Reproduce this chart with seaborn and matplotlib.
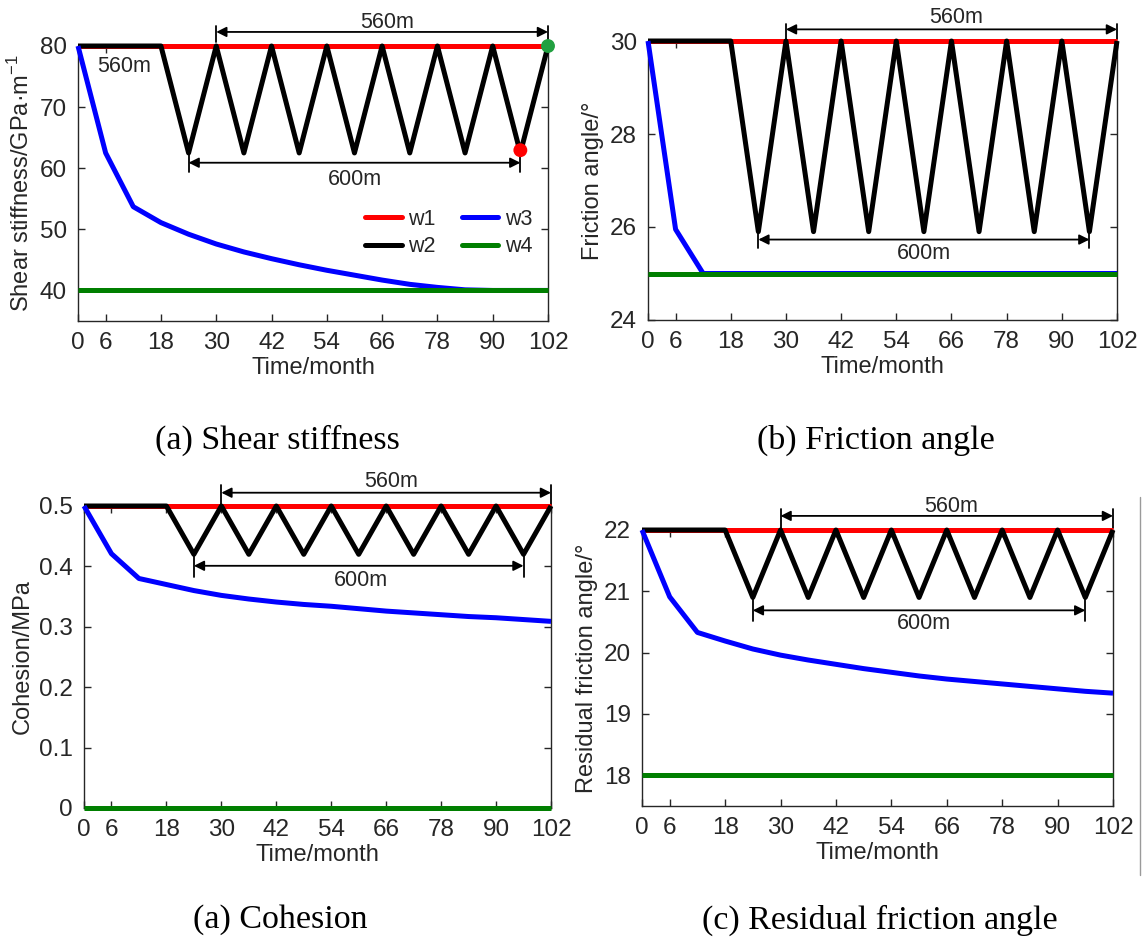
import numpy as np
import pandas as pd
import seaborn as sns
import matplotlib
matplotlib.use("Agg")
import matplotlib.pyplot as plt
from matplotlib.lines import Line2D

# ---------------- data ----------------
months = [0, 6, 12, 18, 24, 30, 36, 42, 48, 54, 60, 66, 72, 78, 84, 90, 96, 102]
xticks = [0, 6, 18, 30, 42, 54, 66, 78, 90, 102]
series_names = ["w1", "w2", "w3", "w4"]
series_colors = ["#ff0000", "#000000", "#0000ff", "#007f00"]

# (a) Shear stiffness
stiff_w1 = [80] * 18
stiff_w2 = [80, 80, 80, 80, 62.5, 80, 62.5, 80, 62.5, 80, 62.5, 80, 62.5, 80, 62.5, 80, 62.5, 80]
stiff_w3 = [80, 62.5, 53.7, 51.1, 49.2, 47.6, 46.3, 45.2, 44.2, 43.3, 42.5, 41.7, 41.0, 40.5, 40.1, 40, 40, 40]
stiff_w4 = [40] * 18

# (b) Friction angle
fric_w1 = [30] * 18
fric_w2 = [30, 30, 30, 30, 25.9, 30, 25.9, 30, 25.9, 30, 25.9, 30, 25.9, 30, 25.9, 30, 25.9, 30]
fric_w3 = [30, 25.95, 25.0, 25, 25, 25, 25, 25, 25, 25, 25, 25, 25, 25, 25, 25, 25, 25]
fric_w4 = [25] * 18

# (a) Cohesion
coh_w1 = [0.5] * 18
coh_w2 = [0.5, 0.5, 0.5, 0.5, 0.42, 0.5, 0.42, 0.5, 0.42, 0.5, 0.42, 0.5, 0.42, 0.5, 0.42, 0.5, 0.42, 0.5]
coh_w3 = [0.5, 0.421, 0.380, 0.370, 0.360, 0.352, 0.346, 0.341, 0.337, 0.334, 0.330, 0.326, 0.323, 0.320, 0.317, 0.315, 0.312, 0.309]
coh_w4 = [0.0] * 18

# (c) Residual friction angle
res_w1 = [22] * 18
res_w2 = [22, 22, 22, 22, 20.9, 22, 20.9, 22, 20.9, 22, 20.9, 22, 20.9, 22, 20.9, 22, 20.9, 22]
res_w3 = [22, 20.91, 20.33, 20.19, 20.06, 19.96, 19.88, 19.81, 19.74, 19.68, 19.62, 19.57, 19.53, 19.49, 19.45, 19.41, 19.37, 19.34]
res_w4 = [18] * 18

ylabels = ["Shear stiffness/GPa·m$^{-1}$", "Friction angle/°", "Cohesion/MPa", "Residual friction angle/°"]
captions = ["(a) Shear stiffness", "(b) Friction angle", "(a) Cohesion", "(c) Residual friction angle"]
ylims = [(35, 80), (24, 30), (0, 0.5), (17.5, 22)]
yticks = [[40, 50, 60, 70, 80], [24, 26, 28, 30], [0, 0.1, 0.2, 0.3, 0.4, 0.5], [18, 19, 20, 21, 22]]
ytick_labels = [["40", "50", "60", "70", "80"], ["24", "26", "28", "30"],
                ["0", "0.1", "0.2", "0.3", "0.4", "0.5"], ["18", "19", "20", "21", "22"]]

# annotation layout
ann = [
    dict(top_y=82.3, top_ty=83.9, bot_y=60.9, bot_ty=58.2, tick=1.6, top_tx=67, bot_tx=60),
    dict(top_y=30.25, top_ty=30.5, bot_y=25.73, bot_ty=25.43, tick=0.2, top_tx=67, bot_tx=60),
    dict(top_y=0.522, top_ty=0.541, bot_y=0.401, bot_ty=0.377, tick=0.02, top_tx=67, bot_tx=60.4),
    dict(top_y=22.23, top_ty=22.39, bot_y=20.69, bot_ty=20.47, tick=0.2, top_tx=67, bot_tx=61),
]
top_span = (30, 102)
bot_span = (24, 96)

panels = [
    (stiff_w1, stiff_w2, stiff_w3, stiff_w4),
    (fric_w1, fric_w2, fric_w3, fric_w4),
    (coh_w1, coh_w2, coh_w3, coh_w4),
    (res_w1, res_w2, res_w3, res_w4),
]

# ---------------- style ----------------
sns.set_style("ticks")
plt.rcParams["font.family"] = ["Liberation Sans", "DejaVu Sans"]
plt.rcParams["mathtext.fontset"] = "custom"
plt.rcParams["mathtext.rm"] = "Liberation Sans"
plt.rcParams["axes.edgecolor"] = "#262626"
plt.rcParams["xtick.color"] = "#262626"
plt.rcParams["ytick.color"] = "#262626"

fig = plt.figure(figsize=(11.46, 9.5), dpi=100)
W, H = 1146, 950
boxes_px = [(78, 46, 548, 321), (648, 41, 1117, 320), (84, 506, 551, 808), (642, 530, 1113, 806)]
caption_pos = [(277, 440), (876, 440), (280, 920), (880, 920)]

for i, (vals, box) in enumerate(zip(panels, boxes_px)):
    l, t, r, b = box
    ax = fig.add_axes([l / W, 1 - b / H, (r - l) / W, (b - t) / H])
    df = pd.DataFrame({
        "Time": months * 4,
        "value": list(vals[0]) + list(vals[1]) + list(vals[2]) + list(vals[3]),
        "series": sum([[n] * len(months) for n in series_names], []),
    })
    sns.lineplot(data=df, x="Time", y="value", hue="series", hue_order=series_names,
                 palette=series_colors, estimator=None, sort=False, linewidth=3.6,
                 ax=ax, legend=(i == 0))
    for k, ln in enumerate(ax.lines):
        ln.set_clip_on(False)
        ln.set_solid_capstyle("butt")
        ln.set_zorder(3 + 0.01 * k)
    ax.set_xlim(0, 102)
    ax.set_ylim(*ylims[i])
    ax.set_xticks(xticks)
    ax.set_yticks(yticks[i])
    ax.set_yticklabels(ytick_labels[i])
    ax.tick_params(direction="in", length=5, width=1, labelsize=17.5, pad=8,
                   right=True, top=True, labelcolor="#262626")
    for sp in ax.spines.values():
        sp.set_visible(True)
        sp.set_linewidth(1.0)
    ax.set_xlabel("Time/month", fontsize=17, color="#262626", labelpad=2)
    ax.set_ylabel(ylabels[i], fontsize=17, color="#262626", labelpad=4)

    a = ann[i]
    ax.annotate("", xy=(top_span[1], a["top_y"]), xytext=(top_span[0], a["top_y"]),
                arrowprops=dict(arrowstyle="<|-|>", color="black", lw=1.3,
                                mutation_scale=15, shrinkA=0, shrinkB=0),
                annotation_clip=False)
    for xx in top_span:
        ax.plot([xx, xx], [a["top_y"] - a["tick"], a["top_y"] + a["tick"] * 0.6],
                color="black", lw=1.3, clip_on=False)
    ax.text(a["top_tx"], a["top_ty"], "560m", ha="center", va="center", fontsize=15.5,
            color="#262626", clip_on=False)
    ax.annotate("", xy=(bot_span[1], a["bot_y"]), xytext=(bot_span[0], a["bot_y"]),
                arrowprops=dict(arrowstyle="<|-|>", color="black", lw=1.3,
                                mutation_scale=15, shrinkA=0, shrinkB=0))
    for xx in bot_span:
        ax.plot([xx, xx], [a["bot_y"] - a["tick"] * 0.9, a["bot_y"] + a["tick"] * 0.9],
                color="black", lw=1.3)
    ax.text(a["bot_tx"], a["bot_ty"], "600m", ha="center", va="center", fontsize=15.5,
            color="#262626")

    if i == 0:
        ax.text(10, 76.7, "560m", ha="center", va="center", fontsize=15.5, color="#262626")
        ax.scatter([96], [62.95], s=100, color="#ff0000", zorder=5, edgecolor="none")
        ax.scatter([102], [80], s=100, color="#22a040", zorder=5, edgecolor="none", clip_on=False)
        handles = [Line2D([], [], color=c, lw=3.6) for c in series_colors]
        ax.legend(handles, series_names, ncol=2, frameon=False, fontsize=15.5,
                  loc="lower right", bbox_to_anchor=(0.985, 0.2),
                  handlelength=1.7, handletextpad=0.3, columnspacing=1.2,
                  labelspacing=0.3, borderaxespad=0)

    cx, cy = caption_pos[i]
    fig.text(cx / W, 1 - cy / H, captions[i], ha="center", va="center", fontsize=24.5,
             family=["Liberation Serif", "DejaVu Serif"], color="black")

fig.add_artist(Line2D([1139.5 / W, 1139.5 / W], [1 - 497 / H, 1 - 875 / H],
                      color="#9a9a9a", lw=1))

fig.savefig("out.png", dpi=100)
